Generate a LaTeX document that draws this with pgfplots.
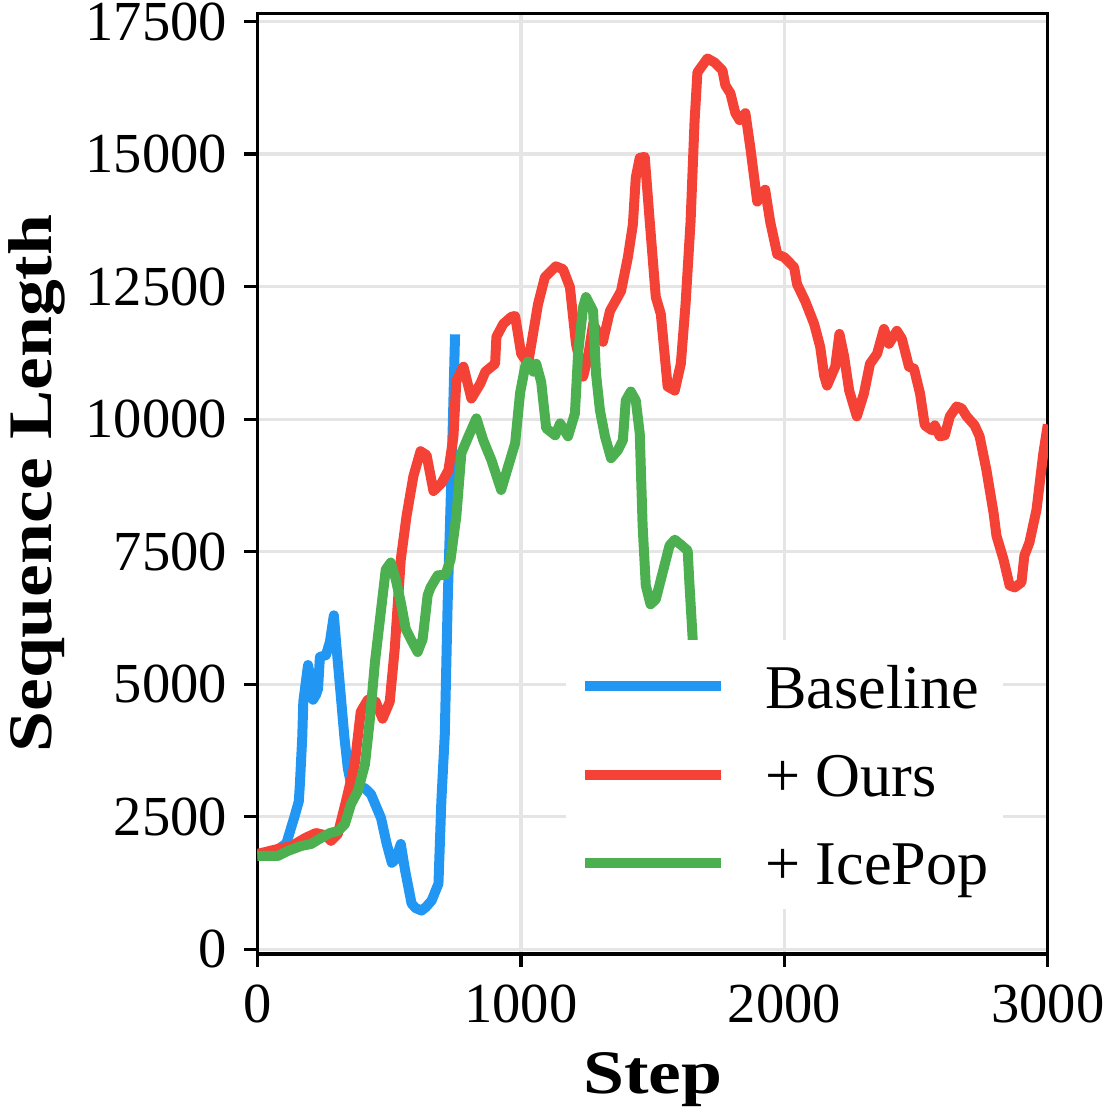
\documentclass[border=0pt]{standalone}
\usepackage{fontspec}
\setmainfont{Liberation Serif}
\usepackage{graphicx}
\usepackage{pgfplots}
\pgfplotsset{compat=1.18}

\definecolor{cblue}{HTML}{2196F3}
\definecolor{cred}{HTML}{F44336}
\definecolor{cgreen}{HTML}{4CAF50}

\begin{document}
\begin{tikzpicture}
\begin{axis}[
  scale only axis,
  width=237.6pt, height=282.8pt,
  xmin=0, xmax=3000, ymin=-88, ymax=17656,
  xtick={0,1000,2000,3000},
  ytick={0,2500,5000,7500,10000,12500,15000,17500},
  scaled ticks=false,
  /pgf/number format/1000 sep={},
  /pgf/number format/assume math mode=true,
  tick label style={font=\fontsize{17}{19}\selectfont},
  tick align=outside,
  xtick pos=left, ytick pos=left,
  major tick length=3.9pt,
  every tick/.style={black, line width=1pt},
  axis line style={black, line width=1pt},
  grid=major,
  grid style={black!10, line width=1pt},
  yticklabel style={anchor=east, inner sep=0pt, xshift=-5.1pt},
  xticklabel style={anchor=north, inner sep=0pt, yshift=-5.3pt},
  every axis x label/.style={at={(axis description cs:0.5,-0.1478)}, anchor=base,
    font=\fontsize{18.6}{21}\selectfont\bfseries},
  every axis y label/.style={at={(axis description cs:-0.2601,0.5)}, rotate=90, anchor=base,
    font=\fontsize{18.6}{21}\selectfont\bfseries},
  xlabel={\scalebox{1.19}[1]{Step}},
  ylabel={\scalebox{1.19}[1]{Sequence Length}},
  legend style={at={(axis description cs:0.390,0.3349)}, anchor=north west,
    draw=none, fill=white, inner xsep=4.2pt, inner ysep=3.6pt,
    row sep=5.75pt, column sep=11.8pt,
    font=\fontsize{18.7}{22}\selectfont,
    nodes={inner sep=0pt, text height=17pt, text depth=3.8pt}},
  legend cell align=left,
  legend image code/.code={\draw[#1] (0pt,0pt) -- (40.8pt,0pt);},
  every axis plot/.append style={line width=3pt, line join=round},
]
\coordinate (ll) at (rel axis cs:0,0);
\coordinate (ur) at (rel axis cs:1,1);

% Baseline run
\addplot[cblue] coordinates {
(0,1800) (40,1810) (70,1857) (110,2000) (128,2300) (139,2476) (157,2794)
(161,3113) (170,4000) (174,4670) (192,5364) (205,5000) (211,4707) (222,4800)
(230,4914) (237,5514) (260,5551) (275,5800) (290,6301) (300,5700) (316,4801)
(330,4000) (343,3413) (356,3100) (370,3038) (390,3060) (408,3038) (431,2926)
(450,2700) (469,2476) (490,2000) (510,1632) (525,1700) (544,1988) (560,1500)
(585,863) (600,780) (623,731) (640,800) (661,919) (687,1238) (698,2794)
(711,4051) (722,6545) (733,8400) (742,10000) (750,11600)
};
\addlegendentry{Baseline}

% With our method
\addplot[cred] coordinates {
(0,1800) (78,1894) (130,1950) (181,2100) (222,2194) (260,2150) (279,2044)
(305,2175) (336,2794) (369,3488) (392,4482) (419,4707) (449,4670) (475,4351)
(502,4670) (521,5664) (544,7352) (566,8177) (592,8927) (619,9396) (642,9321)
(668,8646) (699,8796) (725,9040) (744,9677) (755,10728) (782,10990) (812,10390)
(846,10671) (865,10896) (902,11046) (907,11553) (933,11797) (963,11928)
(978,11947) (1001,11234) (1027,11046) (1065,12172) (1091,12678) (1110,12772)
(1133,12884) (1160,12828) (1186,12491) (1209,11422) (1236,10803) (1255,11178)
(1274,11797) (1311,11459) (1338,12041) (1380,12416) (1406,13053) (1425,13672)
(1436,14554) (1451,14929) (1470,14948) (1489,13729) (1512,12303) (1531,11984)
(1557,10615) (1584,10540) (1607,11046) (1625,12172) (1644,13729) (1659,15604)
(1670,16542) (1708,16804) (1735,16729) (1765,16579) (1776,16298) (1795,16148)
(1814,15773) (1830,15642) (1852,15773) (1871,15116) (1897,14104) (1927,14329)
(1946,13729) (1973,13110) (2000,13053) (2037,12866) (2048,12547) (2079,12228)
(2113,11797) (2136,11365) (2151,10821) (2162,10634) (2193,10990) (2209,11609)
(2227,11178) (2246,10540) (2275,10053) (2302,10484) (2325,11046) (2352,11234)
(2378,11703) (2397,11422) (2427,11666) (2446,11516) (2473,10990) (2492,10953)
(2515,10484) (2533,9884) (2560,9790) (2571,9884) (2590,9677) (2609,9696)
(2628,10053) (2654,10240) (2673,10203) (2692,10053) (2722,9884) (2741,9677)
(2767,9040) (2794,8233) (2805,7802) (2832,7352) (2855,6864) (2874,6827)
(2900,6921) (2911,7427) (2930,7671) (2957,8290) (2983,9359) (3000,9900)
};
\addlegendentry{+ Ours}

% With IcePop
\addplot[cgreen] coordinates {
(0,1763) (78,1763) (116,1857) (166,1950) (204,1988) (241,2100) (275,2194)
(306,2232) (332,2363) (355,2738) (381,2982) (408,3488) (427,4351) (446,5420)
(468,6358) (487,7164) (506,7296) (525,6977) (544,6545) (563,6039) (582,5852)
(608,5608) (627,5852) (646,6677) (657,6827) (684,7052) (714,7071) (733,7352)
(755,8177) (774,9359) (801,9677) (831,10015) (857,9602) (888,9227) (925,8665)
(952,9115) (978,9546) (997,10500) (1016,10990) (1027,11084) (1047,10896)
(1058,11046) (1077,10700) (1096,9828) (1130,9696) (1149,9921) (1179,9677)
(1205,10109) (1217,11234) (1236,12116) (1247,12303) (1274,12041) (1285,10859)
(1300,10165) (1319,9677) (1342,9265) (1368,9415) (1387,9602) (1398,10353)
(1417,10521) (1436,10353) (1451,9734) (1462,7990) (1474,6864) (1492,6508)
(1512,6602) (1538,7108) (1564,7615) (1584,7727) (1607,7633) (1633,7521)
(1640,6864) (1652,5852) (1660,4800)
};
\addlegendentry{+ IcePop}
\end{axis}
\pgfresetboundingbox
\path ([shift={(-77.4pt,-49.6pt)}]ll) rectangle ([shift={(17.1pt,4.0pt)}]ur);
\end{tikzpicture}
\end{document}
